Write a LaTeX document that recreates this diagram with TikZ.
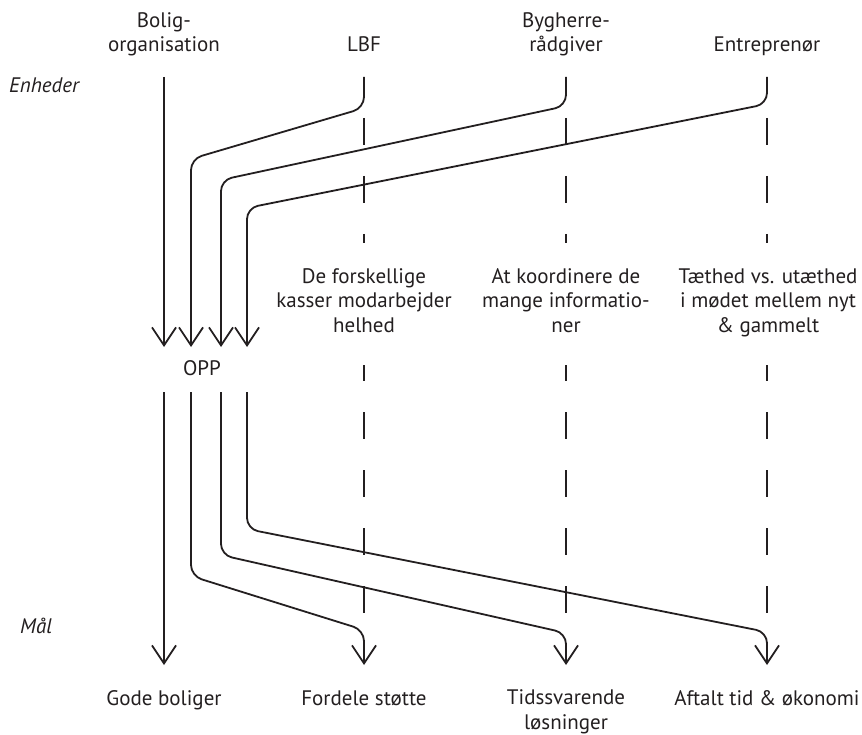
\documentclass[tikz,border=0pt]{standalone}
\usepackage{fontspec}
\setmainfont{PT Sans}
\usetikzlibrary{arrows.meta}
\definecolor{ink}{HTML}{231F20}
\begin{document}
\begin{tikzpicture}[x=1pt,y=-1pt,
  lbl/.style={font=\fontsize{21}{24.5}\selectfont, align=center, inner sep=0pt, anchor=base, text=ink},
  side/.style={font=\fontsize{21}{24.5}\selectfont\itshape, inner sep=0pt, anchor=base west, text=ink},
  flow/.style={draw=ink, line width=1.8pt, rounded corners=11pt},
  arr/.style={-{Straight Barb[length=18pt,width=24pt]}},
  dashline/.style={draw=ink, line width=1.8pt, dash pattern=on 27pt off 31pt}]
\useasboundingbox (0,0) rectangle (862,735);
% labels (anchor = baseline of the last line)
\node[lbl] (bolig) at (164,52) {Bolig-\\organisation};
\node[lbl] (lbf) at (364,52) {LBF};
\node[lbl] (byg) at (566,52) {Bygherre-\\rådgiver};
\node[lbl] (ent) at (767,52) {Entreprenør};
\node[side] (enh) at (9,93) {Enheder};
\node[side] (maal) at (20,633) {Mål};
\node[lbl] (opp) at (202,375) {OPP};
\node[lbl] (t1) at (364,332) {De forskellige\\kasser modarbejder\\helhed};
\node[lbl] (t2) at (566,332) {At koordinere de\\mange informatio-\\ner};
\node[lbl] (t3) at (768,332) {Tæthed vs. utæthed\\i mødet mellem nyt\\\& gammelt};
\node[lbl] (g1) at (164,705) {Gode boliger};
\node[lbl] (g2) at (364,705) {Fordele støtte};
\node[lbl] (g3) at (566,729) {Tidssvarende\\løsninger};
\node[lbl] (g4) at (767,705) {Aftalt tid \& økonomi};
% coordinates
\coordinate (s1) at (164,77); \coordinate (s2) at (364,77);
\coordinate (s3) at (566,77); \coordinate (s4) at (767,77);
\coordinate (in1) at (164,347); \coordinate (in2) at (191,347);
\coordinate (in3) at (221,347); \coordinate (in4) at (247,347);
\coordinate (out1) at (164,392); \coordinate (out2) at (191,392);
\coordinate (out3) at (221,392); \coordinate (out4) at (247,392);
\coordinate (e1) at (164,665); \coordinate (e2) at (364,665);
\coordinate (e3) at (566,665); \coordinate (e4) at (767,665);
% dashed guides
\foreach \x in {364,566,767}{
  \draw[dashline] (\x,118) -- (\x,243);
  \draw[dashline, dash phase=11pt] (\x,365) -- (\x,630);
}
% flows to OPP
\draw[flow,arr] (s1) -- (in1);
\draw[flow,arr] (s2) -- (364,108) -- (191,159) -- (in2);
\draw[flow,arr] (s3) -- (566,106) -- (221,180) -- (in3);
\draw[flow,arr] (s4) -- (767,104) -- (247,208) -- (in4);
% flows from OPP
\draw[flow,arr] (out1) -- (e1);
\draw[flow,arr] (out2) -- (191,576) -- (364,630) -- (e2);
\draw[flow,arr] (out3) -- (221,555) -- (566,633) -- (e3);
\draw[flow,arr] (out4) -- (247,529) -- (767,632) -- (e4);
\end{tikzpicture}
\end{document}
